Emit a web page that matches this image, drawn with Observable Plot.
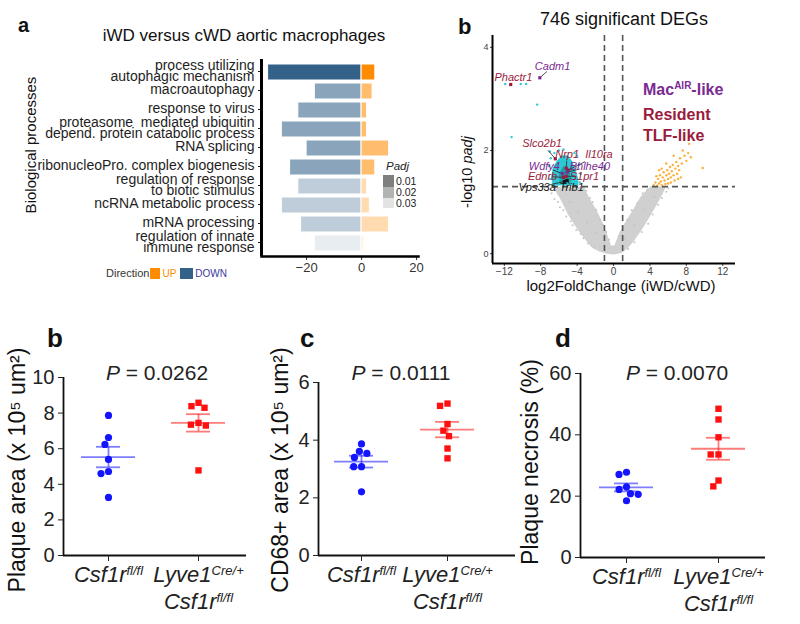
<!DOCTYPE html>
<html><head><meta charset="utf-8">
<script src="https://cdn.jsdelivr.net/npm/d3@7"></script>
<script src="https://cdn.jsdelivr.net/npm/@observablehq/plot@0.6"></script>
<style>
html,body{margin:0;padding:0;background:#fff;}
body{position:relative;width:800px;height:624px;overflow:hidden;font-family:"Liberation Sans",Arial,Helvetica,sans-serif;color:#111;}
.p{position:absolute;}
.t{position:absolute;white-space:nowrap;line-height:1;}
.rot{transform:translate(-50%,-50%) rotate(-90deg);}
.ctr{transform:translateX(-50%);}
.mid{transform:translate(-50%,-50%);}
.sq{position:absolute;width:11px;}
</style></head><body>
<div id="panelA" class="p" style="left:0;top:50px"></div>
<div id="panelV" class="p" style="left:440px;top:30px"></div>
<div id="panelB" class="p" style="left:0;top:320px"></div>
<div id="panelC" class="p" style="left:262px;top:320px"></div>
<div id="panelD" class="p" style="left:524px;top:320px"></div>

<!-- panel a texts -->
<div class="t" style="left:18px;top:15px;font-weight:bold;font-size:20px">a</div>
<div class="t ctr" style="left:244px;top:27px;font-size:17px">iWD versus cWD aortic macrophages</div>
<div class="t rot" style="left:30px;top:145px;font-size:15px">Biological processes</div>
<div class="t" style="left:106px;top:268px;display:flex;align-items:center;font-size:11px;color:#333">Direction<span style="display:inline-block;width:10px;height:11px;background:#ff8c00;margin-left:1px"></span><span style="color:#ff8c00;font-size:10px;margin:0 4px 0 2px">UP</span><span style="display:inline-block;width:13px;height:11px;background:#336188"></span><span style="color:#3b3b9c;font-size:10px;margin-left:2px">DOWN</span></div>
<div class="t" style="left:386px;top:161px;font-size:11.5px;font-style:italic;color:#222">Padj</div>
<div class="sq" style="left:383px;top:175px;height:12px;background:#7f7f7f"></div>
<div class="sq" style="left:383px;top:187px;height:11px;background:#b3b3b3"></div>
<div class="sq" style="left:383px;top:198px;height:10px;background:#e3e3e3"></div>
<div class="t" style="left:396px;top:176px;font-size:10.5px;color:#222">0.01</div>
<div class="t" style="left:396px;top:187px;font-size:10.5px;color:#222">0.02</div>
<div class="t" style="left:396px;top:198px;font-size:10.5px;color:#222">0.03</div>

<!-- volcano texts -->
<div class="t" style="left:458px;top:16px;font-weight:bold;font-size:22px">b</div>
<div class="t ctr" style="left:624px;top:10px;font-size:18px">746 significant DEGs</div>
<div class="t rot" style="left:467px;top:172px;font-size:14.5px">-log10 <i>padj</i></div>
<div class="t mid" style="left:621px;top:285px;font-size:15px">log2FoldChange (iWD/cWD)</div>
<div class="t" style="left:643px;top:82px;font-size:16px;font-weight:bold;color:#7b2a92">Mac<span style="font-size:10px;position:relative;top:-6px">AIR</span>-like</div>
<div class="t" style="left:643px;top:107px;font-size:16px;font-weight:bold;color:#9a1b3c">Resident</div>
<div class="t" style="left:643px;top:128px;font-size:16px;font-weight:bold;color:#9a1b3c">TLF-like</div>

<!-- bottom panel texts -->
<div class="t" style="left:47px;top:325px;font-weight:bold;font-size:26px">b</div>
<div class="t" style="left:300px;top:325px;font-weight:bold;font-size:26px">c</div>
<div class="t" style="left:555px;top:325px;font-weight:bold;font-size:26px">d</div>
<div class="t ctr" style="left:157px;top:362px;font-size:21px;color:#222"><i>P</i> = 0.0262</div>
<div class="t ctr" style="left:401px;top:362px;font-size:21px;color:#222"><i>P</i> = 0.0111</div>
<div class="t ctr" style="left:677px;top:362px;font-size:21px;color:#222"><i>P</i> = 0.0070</div>
<div class="t rot" style="left:17px;top:470px;font-size:23px">Plaque area (x 10⁵ um²)</div>
<div class="t rot" style="left:280px;top:470px;font-size:23px">CD68+ area (x 10⁵ um²)</div>
<div class="t rot" style="left:530px;top:462px;font-size:23px">Plaque necrosis (%)</div>

<script>
// ---------- Panel a: GO processes ----------
const processes = [
  "process utilizing\nautophagic mechanism",
  "macroautophagy",
  "response to virus",
  "proteasome  mediated ubiquitin\ndepend. protein catabolic process",
  "RNA splicing",
  "ribonucleoPro. complex biogenesis",
  "regulation of response\nto biotic stimulus",
  "ncRNA metabolic process",
  "mRNA processing",
  "regulation of innate\nimmune response"
];
const downGenes = [-34, -17, -23, -29, -20, -26, -23, -29, -22, -17];
const upGenes = [5, 4, 2, 2, 10, 5, 2, 3, 10, 1];
const padjValues = [0.005, 0.02, 0.02, 0.02, 0.02, 0.02, 0.029, 0.029, 0.029, 0.036];
const xTicksA = [-20, 0, 20];

// ---------- Panel b (top): volcano ----------
const volcanoXTicks = [-12, -8, -4, 0, 4, 8, 12];
const volcanoYTicks = [0, 2, 4];
const foldCutoffs = [-1, 1];
const padjCutoff = 1.3;
const grayEnvelope = [
  [-6.6,1.3],[-6.2,1.17],[-5.9,1.09],[-5.4,0.92],[-5.0,0.77],[-4.4,0.6],[-3.85,0.45],[-3.1,0.28],[-2.4,0.13],[-1.6,0.05],[-0.8,0.01],[0,-0.01],
  [0.8,0.02],[1.5,0.1],[2.2,0.25],[3.0,0.45],[3.6,0.62],[4.1,0.77],[4.6,0.92],[5.0,1.05],[5.4,1.18],[5.7,1.3],
  [4.1,1.3],[3.5,1.2],[3.0,1.1],[2.4,0.92],[1.9,0.77],[1.3,0.6],[0.8,0.45],[0.4,0.28],[0.1,0.15],
  [-0.3,0.15],[-0.6,0.3],[-0.9,0.45],[-1.3,0.62],[-1.7,0.77],[-2.2,0.93],[-2.75,1.09],[-3.3,1.3]
];
const grayFringe = [
  [-7.1,1.24],[-6.8,1.17],[-6.5,1.06],[-6.1,1.0],[-5.9,0.9],[-5.5,0.84],[-5.2,0.72],[-4.7,0.63],[-4.5,0.55],[-4.1,0.46],[-3.6,0.38],[-3.3,0.3],[-2.8,0.2],[-2.1,0.12],
  [-3.0,1.22],[-2.6,1.08],[-2.3,1.0],[-1.9,0.85],[-1.5,0.66],[-1.2,0.56],[-0.8,0.42],[-0.5,0.27],
  [1.6,0.09],[2.3,0.22],[3.1,0.42],[3.8,0.58],[4.3,0.76],[4.9,0.95],[5.3,1.08],[5.8,1.2],[6.0,1.27],
  [3.7,1.24],[3.2,1.17],[2.6,0.98],[2.0,0.84],[1.5,0.66],[1.0,0.52],[0.6,0.34],
  [-4.8,1.0],[-3.9,0.8],[-2.9,0.6],[-1.9,0.4],[-1.0,0.2],[1.2,0.3],[2.3,0.55],[3.3,0.85],[4.5,1.1]
];
const cyanCore = [[-6.7,1.32],[-6.8,1.5],[-6.6,1.68],[-6.2,1.8],[-5.7,1.9],[-5.1,1.9],[-4.6,1.8],[-4.2,1.62],[-3.9,1.45],[-3.9,1.32]];
const cyanDense = [[-5.9,1.35],[-6.0,1.55],[-5.5,1.7],[-4.8,1.62],[-4.7,1.38]];
const cyanDEGs = [
  [-11.9,3.29],[-10.2,3.29],[-9.6,3.29],[-8.4,2.89],[-11.2,2.26],[-7.0,1.98],[-6.9,1.85],[-7.1,1.7],[-7.0,1.45],
  [-4.0,1.9],[-3.8,1.72],[-3.6,1.55],[-3.7,1.38],[-4.3,1.95],[-6.0,2.0],[-5.5,2.02],[-6.5,1.95]
];
const orangeDEGs = [
  [4.4,1.33],[4.6,1.38],[4.8,1.32],[4.9,1.45],[5.0,1.36],[5.1,1.52],[5.2,1.4],[5.3,1.33],[5.4,1.48],[5.5,1.58],
  [5.6,1.42],[5.7,1.35],[5.8,1.52],[5.9,1.62],[6.0,1.45],[6.0,1.36],[6.1,1.55],[6.2,1.68],[6.3,1.48],[6.3,1.38],
  [6.4,1.6],[6.5,1.72],[6.6,1.52],[6.7,1.42],[6.8,1.65],[6.9,1.78],[7.0,1.55],[7.1,1.7],[7.2,1.62],[7.3,1.85],
  [7.4,1.48],[7.5,1.75],[7.8,1.9],[8.0,1.8],[8.2,1.95],[8.5,1.87],[8.3,2.13],[7.6,2.0],[9.8,1.66],[5.3,1.65],
  [5.8,1.75],[6.6,1.9],[4.7,1.5],[5.0,1.62],[7.1,1.45]
];
const genes = ["Cadm1","Phactr1","Slco2b1","Nrp1","Il10ra","Wdfy4","Bhlhe40","Ednrb","S1pr1","Vps33a","Trib1"];
const geneLFC = [-8.1, -11.3, -6.4, -5.2, -5.0, -5.6, -5.1, -5.5, -5.2, -5.4, -5.1];
const geneLogP = [3.41, 3.28, 1.84, 1.66, 1.62, 1.55, 1.58, 1.48, 1.50, 1.40, 1.42];
const geneClass = ["MacAIR","Resident","Resident","Resident","Resident","MacAIR","MacAIR","Resident","Resident","TLF","TLF"];
const labelLFC = [-6.7, -11.0, -7.85, -5.1, -1.6, -7.6, -2.6, -7.8, -3.2, -8.4, -4.6];
const labelLogP = [3.63, 3.42, 2.14, 1.92, 1.92, 1.69, 1.69, 1.50, 1.50, 1.28, 1.28];

// ---------- Panels b-d (bottom) ----------
const groups = ["Csf1r fl/fl", "Lyve1 Cre/+ Csf1r fl/fl"];
const groupLabelParts = [
  [[["Csf1r", false], ["fl/fl", true]]],
  [[["Lyve1", false], ["Cre/+", true]], [["Csf1r", false], ["fl/fl", true]]]
];
const plaqueAreaCtrl = [7.87, 6.63, 6.24, 5.40, 4.72, 4.60, 3.26];
const plaqueAreaKO = [8.58, 8.39, 8.30, 7.45, 7.35, 7.30, 4.78];
const cd68AreaCtrl = [3.87, 3.61, 3.54, 3.40, 3.08, 3.08, 2.21];
const cd68AreaKO = [5.27, 5.19, 4.56, 4.33, 4.14, 3.71, 3.37];
const necrosisCtrl = [27.8, 27.1, 23.0, 22.2, 20.8, 20.6, 18.5];
const necrosisKO = [48.5, 45.0, 39.2, 33.6, 33.6, 25.1, 23.2];
const plaqueTicks = [0, 2, 4, 6, 8, 10];
const cd68Ticks = [0, 2, 4, 6];
const necrosisTicks = [0, 20, 40, 60];

const FONT = "'Liberation Sans', Arial, Helvetica, sans-serif";
const minusFmt = d => d < 0 ? "\u2212" + (-d) : String(d);

// ---- Panel a ----
const goRows = processes.map((p, i) => ({process: p, down: downGenes[i], up: upGenes[i], padj: padjValues[i]}));
const xDomA = [-36.4, 20.7];
const plotA = Plot.plot({
  width: 430, height: 240, marginLeft: 261, marginRight: 12, marginTop: 9, marginBottom: 34,
  style: {fontFamily: FONT, background: "transparent", overflow: "visible"},
  x: {domain: xDomA},
  y: {domain: processes, paddingInner: 0.16, paddingOuter: 0.06},
  opacity: {domain: [0.005, 0.04], range: [1, 0]},
  marks: [
    Plot.barX(goRows, {y: "process", x: "down", fill: "#336188", fillOpacity: {value: "padj", scale: "opacity"}, stroke: "#fff", strokeWidth: 1}),
    Plot.barX(goRows, {y: "process", x: "up", fill: "#ff8c00", fillOpacity: {value: "padj", scale: "opacity"}, stroke: "#fff", strokeWidth: 1}),
    Plot.axisY({tickSize: 3, tickPadding: 4, fontSize: 14, lineHeight: 0.79, color: "#1e1e1e", label: null, dy: -1}),
    Plot.axisX({ticks: xTicksA, tickFormat: minusFmt, tickSize: 4, tickPadding: 2, fontSize: 13, color: "#333", label: null}),
    Plot.ruleX([xDomA[0]], {stroke: "#000", strokeWidth: 3}),
    Plot.frame({anchor: "bottom", stroke: "#000", strokeWidth: 2.5})
  ]
});
document.getElementById("panelA").append(plotA);

// ---- Volcano ----
const pt = a => a.map(([x, y]) => ({x, y}));
const geneRows = genes.map((g, i) => ({gene: g, lfc: geneLFC[i], logp: geneLogP[i], cls: geneClass[i], lx: labelLFC[i], ly: labelLogP[i]}));
const linked = geneRows.filter(d => d.gene !== "Phactr1");
const xDomV = [-13.3, 13.4], yDomV = [-0.19, 4.23];
const plotV = Plot.plot({
  width: 360, height: 270, marginLeft: 52, marginRight: 65, marginTop: 5, marginBottom: 37,
  style: {fontFamily: FONT, background: "transparent", overflow: "visible"},
  x: {domain: xDomV},
  y: {domain: yDomV},
  color: {domain: ["MacAIR", "Resident", "TLF"], range: ["#7b2a92", "#9a1b3c", "#151515"]},
  marks: [
    Plot.line(pt(grayEnvelope), {x: "x", y: "y", fill: "#d0d0d0", stroke: "#c8c8c8", strokeWidth: 0.6}),
    Plot.dot(pt(grayFringe), {x: "x", y: "y", r: 1, fill: "#c4c4c4"}),
    Plot.line(pt(cyanCore), {x: "x", y: "y", fill: "#2cc8d4", stroke: "#2cc8d4", strokeWidth: 0.6}),
    Plot.line(pt(cyanDense), {x: "x", y: "y", fill: "#1d9ea9", stroke: "none"}),
    Plot.dot(pt(cyanDEGs), {x: "x", y: "y", r: 1.2, fill: "#2cc8d4"}),
    Plot.dot(pt(orangeDEGs), {x: "x", y: "y", r: 1.2, fill: "#fbb03b"}),
    Plot.ruleX(foldCutoffs, {stroke: "#555", strokeWidth: 1.6, strokeDasharray: "6,4"}),
    Plot.ruleY([padjCutoff], {stroke: "#555", strokeWidth: 1.6, strokeDasharray: "6,4"}),
    Plot.link(linked, {x1: "lfc", y1: "logp", x2: d => d.lfc + 0.55 * (d.lx - d.lfc), y2: d => d.logp + 0.55 * (d.ly - d.logp), stroke: "#222", strokeWidth: 0.8}),
    Plot.dot(geneRows, {x: "lfc", y: "logp", symbol: "square", r: 1.8, fill: "cls"}),
    Plot.text(geneRows, {x: "lx", y: "ly", text: "gene", fill: "cls", fontSize: 11, fontStyle: "italic"}),
    Plot.axisX({ticks: volcanoXTicks, tickFormat: minusFmt, tickSize: 3, tickPadding: 1, fontSize: 10, color: "#444", label: null}),
    Plot.axisY({ticks: volcanoYTicks, tickFormat: d => String(d), tickSize: 2, tickPadding: 2, fontSize: 9, color: "#444", label: null}),
    Plot.ruleX([xDomV[0]], {stroke: "#000", strokeWidth: 2}),
    Plot.ruleY([yDomV[0]], {stroke: "#000", strokeWidth: 2})
  ]
});
document.getElementById("panelV").append(plotV);

// ---- Dot panels ----
function summarize(vals, g) {
  const m = d3.mean(vals), s = d3.deviation(vals) / Math.sqrt(vals.length);
  return {group: g, mean: m, lo: m - s, hi: m + s};
}
function richLabels(svg) {
  d3.select(svg).selectAll('g[aria-label="fx-axis tick label"] text').each(function (_, i) {
    const el = d3.select(this);
    el.text(null);
    (groupLabelParts[i] || []).forEach((line, li) => {
      line.forEach(([s, sup], k) => {
        const ts = el.append("tspan").text(s);
        if (k === 0) { ts.attr("x", 0); if (li) ts.attr("dy", 27); }
        if (sup) ts.attr("font-size", 13).attr("baseline-shift", "super");
      });
    });
  });
}
function dotPanel(id, ctrl, ko, ticks, geo) {
  const ymax = ticks[ticks.length - 1];
  const rows = [...ctrl.map(v => ({group: groups[0], value: v})), ...ko.map(v => ({group: groups[1], value: v}))];
  const st = [summarize(ctrl, groups[0]), summarize(ko, groups[1])];
  const fw = geo.fw, meanIn = (fw - 54) / 2, semIn = (fw - 24) / 2;
  const lineStyle = {stroke: "group", strokeOpacity: 0.55, strokeWidth: 1.8};
  const plot = Plot.plot({
    width: geo.width, height: 304, marginLeft: geo.ml, marginRight: geo.width - geo.ml - 2 * fw,
    marginTop: geo.mt, marginBottom: geo.mb,
    style: {fontFamily: FONT, background: "transparent", overflow: "visible"},
    fx: {domain: groups, padding: 0, axis: null},
    x: {domain: [-1, 1], axis: null},
    y: {domain: [0, ymax], axis: null},
    color: {domain: groups, range: ["#1414ff", "#ff1010"]},
    symbol: {domain: groups, range: ["circle", "square"]},
    marks: [
      Plot.ruleY([0], {fx: [groups[1]], stroke: "#111", strokeWidth: 1.8, insetLeft: -fw, insetRight: -geo.ext}),
      Plot.ruleX([0], {fx: [groups[0]], x: [-1], y1: [0], y2: [ymax], stroke: "#111", strokeWidth: 1.8}),
      Plot.axisY({ticks, tickFormat: d => String(d), tickSize: 5, tickPadding: 4, fontSize: 20, color: "#222", label: null}),
      Plot.axisFx({anchor: "bottom", tickSize: 6, tickPadding: 5, fontSize: 22, fontStyle: "italic", color: "#222", label: null}),
      Plot.ruleY(st, {fx: "group", y: "mean", ...lineStyle, insetLeft: meanIn, insetRight: meanIn}),
      Plot.ruleY(st, {fx: "group", y: "hi", ...lineStyle, insetLeft: semIn, insetRight: semIn}),
      Plot.ruleY(st, {fx: "group", y: "lo", ...lineStyle, insetLeft: semIn, insetRight: semIn}),
      Plot.ruleX(st, {fx: "group", x: () => 0, y1: "lo", y2: "hi", ...lineStyle}),
      Plot.dot(rows, Plot.dodgeX({anchor: "middle", padding: 0.6, fx: "group", y: "value", r: 3.6, fill: "group", symbol: "group"}))
    ]
  });
  richLabels(plot);
  document.getElementById(id).append(plot);
}
dotPanel("panelB", plaqueAreaCtrl, plaqueAreaKO, plaqueTicks, {width: 262, ml: 63, fw: 90, mt: 57, mb: 69, ext: 3});
dotPanel("panelC", cd68AreaCtrl, cd68AreaKO, cd68Ticks, {width: 262, ml: 56, fw: 86, mt: 62, mb: 69, ext: 25});
dotPanel("panelD", necrosisCtrl, necrosisKO, necrosisTicks, {width: 276, ml: 56, fw: 92, mt: 53, mb: 67, ext: 1});
</script>
</body></html>
